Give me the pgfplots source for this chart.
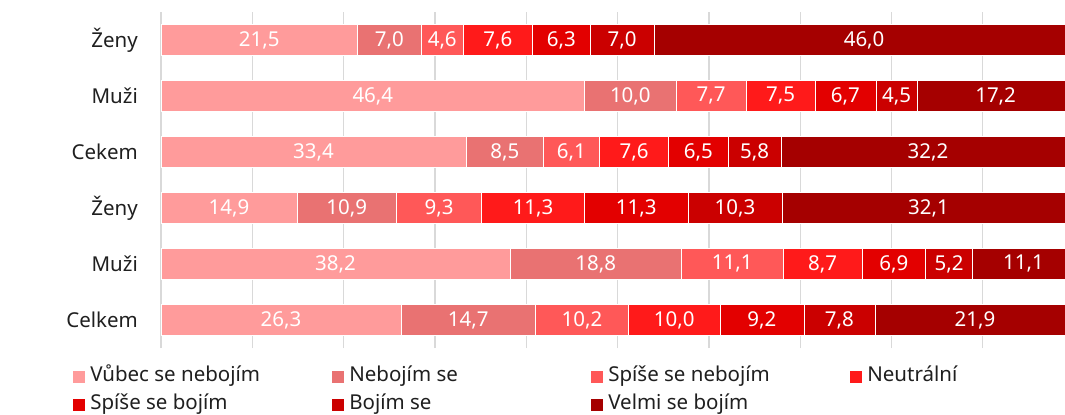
\documentclass[border=0pt]{standalone}
\usepackage{fontspec}
\setmainfont{Noto Sans}
\usepackage{pgfplots}
\usepackage{pgfplotstable}
\pgfplotsset{compat=1.18}

\definecolor{c1}{HTML}{FF9B9B}
\definecolor{c2}{HTML}{E97272}
\definecolor{c3}{HTML}{FF5858}
\definecolor{c4}{HTML}{FF1A1A}
\definecolor{c5}{HTML}{E30000}
\definecolor{c6}{HTML}{CB0000}
\definecolor{c7}{HTML}{A50000}
\definecolor{txt}{HTML}{1F1F1F}
\newcommand\lbl{\fontsize{20.5bp}{24bp}\selectfont}

% rows from bottom (0) to top (5)
\pgfplotstableread{
pos a b c d e f g
5 21.5 7.0 4.6 7.6 6.3 7.0 46.0
4 46.4 10.0 7.7 7.5 6.7 4.5 17.2
3 33.4 8.5 6.1 7.6 6.5 5.8 32.2
2 14.9 10.9 9.3 11.3 11.3 10.3 32.1
1 38.2 18.8 11.1 8.7 6.9 5.2 11.1
0 26.3 14.7 10.2 10.0 9.2 7.8 21.9
}\data

\begin{document}
\begin{tikzpicture}
\useasboundingbox (0,0) rectangle (1065bp,415bp);
\begin{axis}[
    at={(161bp,67bp)}, anchor=south west,
    x=9.1313bp, y=56bp,
    xmin=0, xmax=101, ymin=-0.5, ymax=5.5,
    xbar stacked, bar width=31bp,
    axis line style={draw=none},
    major tick length=0pt,
    xtick={0,10,...,100}, xticklabels={},
    ytick={0,1,2,3,4,5},
    yticklabels={Celkem\hspace{5bp},Muži,Ženy,Cekem\hspace{6bp},Muži,Ženy},
    yticklabel style={font=\lbl, text=txt, anchor=east, inner sep=0pt, xshift=-23bp},
    xmajorgrids, grid style={draw=black!15, line width=1.3bp},
    /pgf/number format/.cd, use comma, fixed, fixed zerofill, precision=1, assume math mode=true,
    /pgfplots/.cd,
    nodes near coords,
    nodes near coords style={font=\lbl, text=white, anchor=center, inner sep=0pt},
    legend columns=4,
    legend style={at={(axis description cs:-0.0951,-0.0565)}, anchor=north west,
        draw=none, fill=none, inner sep=0pt, outer sep=0pt, font=\lbl, text=txt,
        row sep=8.5bp,
        nodes={inner sep=0pt, text height=15bp, text depth=4.5bp},
        /tikz/every odd column/.append style={column sep=5bp},
        /tikz/every even column/.append style={column sep=12bp}},
    legend image code/.code={\fill[#1,draw=none] (0bp,-6bp) rectangle (12bp,6bp);},
]
\addplot[fill=c1, draw=white, line width=0.6bp, point meta=\thisrow{a}] table[x=a, y=pos] {\data};
\addplot[fill=c2, draw=white, line width=0.6bp, point meta=\thisrow{b}] table[x=b, y=pos] {\data};
\addplot[fill=c3, draw=white, line width=0.6bp, point meta=\thisrow{c}] table[x=c, y=pos] {\data};
\addplot[fill=c4, draw=white, line width=0.6bp, point meta=\thisrow{d}] table[x=d, y=pos] {\data};
\addplot[fill=c5, draw=white, line width=0.6bp, point meta=\thisrow{e}] table[x=e, y=pos] {\data};
\addplot[fill=c6, draw=white, line width=0.6bp, point meta=\thisrow{f}] table[x=f, y=pos] {\data};
\addplot[fill=c7, draw=white, line width=0.6bp, point meta=\thisrow{g}] table[x=g, y=pos] {\data};
\legend{\makebox[230bp][l]{Vůbec se nebojím},\makebox[230bp][l]{Nebojím se},\makebox[230bp][l]{Spíše se nebojím},\makebox[230bp][l]{Neutrální},\makebox[230bp][l]{Spíše se bojím},\makebox[230bp][l]{Bojím se},\makebox[230bp][l]{Velmi se bojím}}
\node[rotate=90, font=\lbl, text=txt, inner sep=0pt] at (axis description cs:-0.1571,0.75) {SVL};
\node[rotate=90, font=\lbl, text=txt, inner sep=0pt] at (axis description cs:-0.1571,0.25) {NESVL};
\end{axis}
\end{tikzpicture}
\end{document}
